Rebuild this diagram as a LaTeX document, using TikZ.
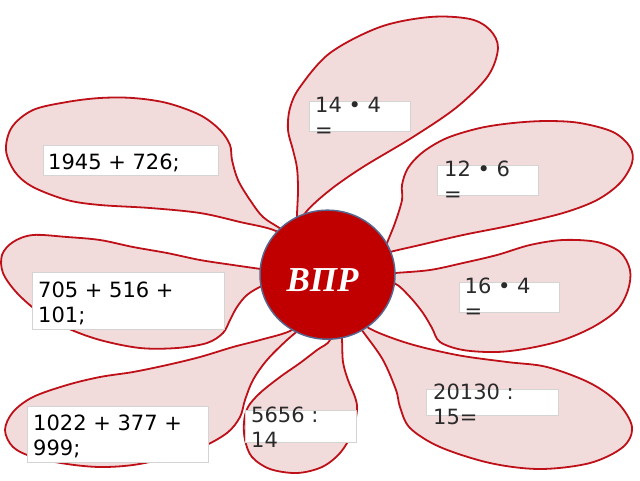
\documentclass[tikz,border=0pt]{standalone}
\usepackage{fontspec}
\usetikzlibrary{shapes.geometric}
\setmainfont{DejaVu Sans}
\newfontfamily\vprfont{Liberation Serif}
\definecolor{petalfill}{HTML}{F2DCDB}
\definecolor{petalline}{HTML}{BE1018}
\definecolor{coref}{HTML}{C00000}
\definecolor{coreline}{HTML}{56668F}
\definecolor{boxline}{HTML}{D4D4D4}
\definecolor{txtgray}{HTML}{2A2A2A}
\tikzset{
  petal/.style={fill=petalfill, draw=petalline, line width=1.8pt, line join=round},
  tbox/.style={fill=white, draw=boxline, line width=0.8pt, inner sep=0pt},
  ttext/.style={anchor=north west, inner sep=0pt, align=left, font=\fontsize{21pt}{25pt}\selectfont},
}
\begin{document}
\begin{tikzpicture}[x=1pt, y=-1pt]
\useasboundingbox (0,0) rectangle (640,480);
% petals
\draw[petal] plot[smooth, tension=0.55] coordinates {(296,240) (297,214) (298,190) (297,168) (293,150) (288,130) (290,108) (300,87) (330,53) (380,27) (430,17) (470,19) (490,30) (498,48) (488,76) (457,107) (413,137) (363,167) (330,190) (306,212) (295,232)} -- cycle;
\draw[petal] plot[smooth, tension=0.55] coordinates {(305,250) (276,231) (240,222) (200,213) (150,208) (100,205) (67,200) (33,187) (15,172) (6,150) (12,127) (33,110) (67,102) (100,98) (133,98) (167,103) (200,115) (220,130) (230,145) (232,160) (238,180) (250,200) (263,217) (281,229) (300,243)} -- cycle;
\draw[petal] plot[smooth, tension=0.55] coordinates {(380,262) (387,243) (395,223) (402,200) (402,185) (408,168) (423,152) (447,138) (480,128) (513,123) (547,121) (580,123) (613,132) (630,147) (632,163) (620,183) (597,200) (563,213) (513,225) (463,235) (420,245) (390,252) (372,258)} -- cycle;
\draw[petal] plot[smooth, tension=0.55] coordinates {(285,272) (261,269) (233,265) (200,260) (167,253) (133,247) (100,240) (67,237) (33,235) (13,242) (2,255) (3,273) (17,293) (40,313) (67,328) (100,340) (140,348) (177,348) (207,343) (223,333) (230,320) (237,307) (247,295) (262,286) (285,278)} -- cycle;
\draw[petal] plot[smooth, tension=0.55] coordinates {(370,275) (395,273) (430,270) (463,263) (497,255) (530,245) (563,240) (597,242) (620,252) (630,270) (628,290) (617,310) (593,327) (563,340) (530,348) (497,352) (463,350) (440,342) (432,328) (423,313) (410,297) (394,283) (370,280)} -- cycle;
\draw[petal] plot[smooth, tension=0.55] coordinates {(305,318) (290,331) (260,340) (233,347) (200,357) (167,365) (133,372) (100,377) (67,385) (33,397) (13,412) (5,430) (13,447) (33,457) (67,464) (100,467) (133,465) (167,458) (200,448) (227,433) (240,417) (245,400) (253,380) (267,360) (287,340) (305,325)} -- cycle;
\draw[petal] plot[smooth, tension=0.55] coordinates {(330,320) (330,340) (317,350) (300,363) (280,377) (260,393) (248,407) (244,422) (245,440) (252,457) (270,469) (297,473) (322,467) (340,453) (352,433) (357,410) (355,397) (348,380) (343,362) (342,340) (340,320)} -- cycle;
\draw[petal] plot[smooth, tension=0.55] coordinates {(355,310) (367,327) (407,343) (457,355) (507,362) (547,367) (590,383) (618,403) (632,427) (623,447) (590,463) (540,469) (490,463) (440,447) (410,428) (400,407) (396,390) (383,360) (364,333) (350,315)} -- cycle;
% core
\node[ellipse, minimum width=135pt, minimum height=129pt, inner sep=0pt, fill=coref, draw=coreline, line width=1.5pt] (core) at (327.5,274.7) {};
\node[inner sep=0pt, text=white, font=\vprfont\bfseries\itshape\fontsize{35pt}{40pt}\selectfont] (vpr) at (322.5,280) {ВПР};
% boxes
\node[tbox, minimum width=100.7pt, minimum height=30pt] (b1) at (359.7,116.7) {};
\node[tbox, minimum width=175pt, minimum height=30pt] (b2) at (130.8,160) {};
\node[tbox, minimum width=101pt, minimum height=30pt] (b3) at (487.8,180) {};
\node[tbox, minimum width=191.3pt, minimum height=56.3pt] (b4) at (128.3,300.8) {};
\node[tbox, minimum width=100.3pt, minimum height=30pt] (b5) at (509.2,297.7) {};
\node[tbox, minimum width=131.6pt, minimum height=25.7pt] (b6) at (492.5,402.2) {};
\node[tbox, minimum width=181pt, minimum height=56.7pt] (b7) at (117.8,434.3) {};
\node[tbox, minimum width=111pt, minimum height=32pt] (b8) at (300.5,426.7) {};
% texts
\node[ttext, text=txtgray] (t1) at (315,97) {14 • 4\\=};
\node[ttext, text=black] (t2) at (48,153.3) {1945 + 726;};
\node[ttext, text=txtgray] (t3) at (444,161) {12 • 6\\=};
\node[ttext, text=black] (t4) at (38,281.7) {705 + 516 +\\101;};
\node[ttext, text=txtgray] (t5) at (464.5,277.7) {16 • 4\\=};
\node[ttext, text=txtgray] (t6) at (433,383.3) {20130 :\\15=};
\node[ttext, text=black] (t7) at (33,415) {1022 + 377 +\\999;};
\node[ttext, text=txtgray] (t8) at (251,406.7) {5656 :\\14};
\end{tikzpicture}
\end{document}
